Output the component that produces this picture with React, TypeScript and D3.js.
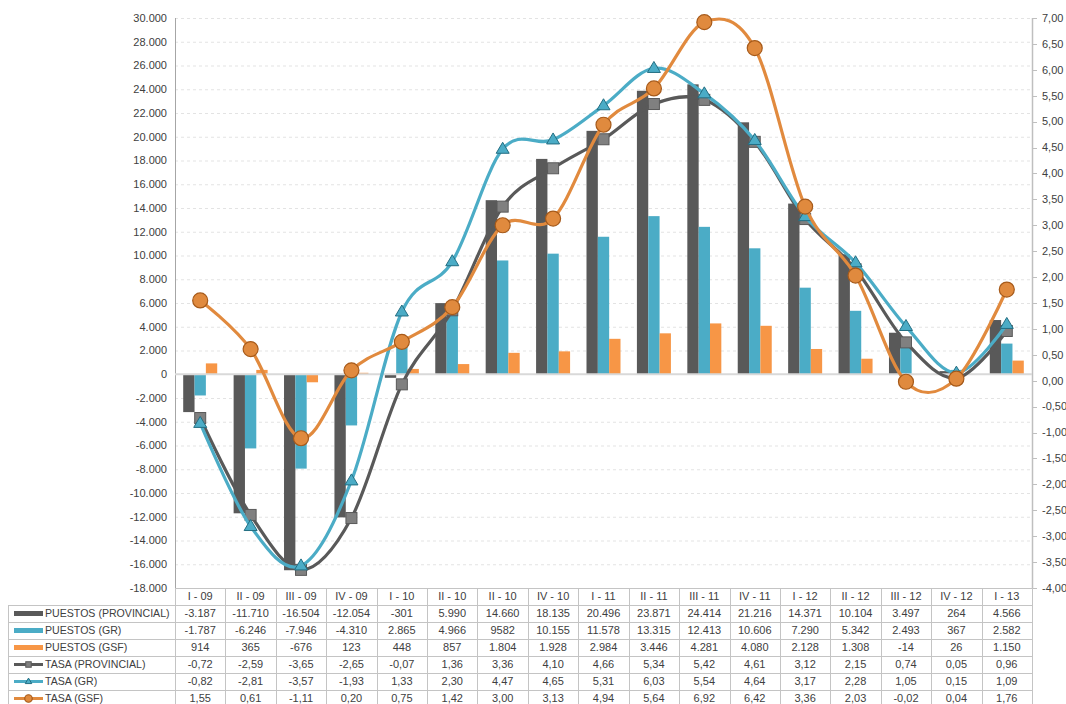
import React, { useEffect, useRef } from "react";
import * as d3 from "d3";

// trimestres (la 7ma columna viene rotulada "II - 10" en el original)
const categories = ["I - 09", "II - 09", "III - 09", "IV - 09", "I - 10", "II - 10", "II - 10", "IV - 10", "I - 11", "II - 11", "III - 11", "IV - 11", "I - 12", "II - 12", "III - 12", "IV - 12", "I - 13"];

const puestosProvincial = [-3187, -11710, -16504, -12054, -301, 5990, 14660, 18135, 20496, 23871, 24414, 21216, 14371, 10104, 3497, 264, 4566];
const puestosGR = [-1787, -6246, -7946, -4310, 2865, 4966, 9582, 10155, 11578, 13315, 12413, 10606, 7290, 5342, 2493, 367, 2582];
const puestosGSF = [914, 365, -676, 123, 448, 857, 1804, 1928, 2984, 3446, 4281, 4080, 2128, 1308, -14, 26, 1150];

const tasaProvincial = [-0.72, -2.59, -3.65, -2.65, -0.07, 1.36, 3.36, 4.1, 4.66, 5.34, 5.42, 4.61, 3.12, 2.15, 0.74, 0.05, 0.96];
const tasaGR = [-0.82, -2.81, -3.57, -1.93, 1.33, 2.3, 4.47, 4.65, 5.31, 6.03, 5.54, 4.64, 3.17, 2.28, 1.05, 0.15, 1.09];
const tasaGSF = [1.55, 0.61, -1.11, 0.2, 0.75, 1.42, 3.0, 3.13, 4.94, 5.64, 6.92, 6.42, 3.36, 2.03, -0.02, 0.04, 1.76];

const leftTicks = d3.range(-18000, 30001, 2000);
const rightTicks = d3.range(-4, 7.001, 0.5);

// la tabla original imprime esta celda sin separador de miles
const cellOverrides: Record<string, string> = { "PUESTOS (GR)|6": "9582" };

const W = 1066;
const H = 704;
const left = 175;
const right = 1032;
const top = 18;
const bottom = 588;
const rowH = 17;
const FONT = "'Liberation Sans', Arial, sans-serif";
const TXT = "#404040";
const GRID = "#D9D9D9";
const BORDER = "#C4C4C4";

type BarSerie = { name: string; values: number[]; color: string };
type LineSerie = { name: string; values: number[]; color: string; marker: string; fill: string; stroke: string };

const bars: BarSerie[] = [
  { name: "PUESTOS (PROVINCIAL)", values: puestosProvincial, color: "#595959" },
  { name: "PUESTOS (GR)", values: puestosGR, color: "#4BACC6" },
  { name: "PUESTOS (GSF)", values: puestosGSF, color: "#F79646" },
];

const lines: LineSerie[] = [
  { name: "TASA (PROVINCIAL)", values: tasaProvincial, color: "#595959", marker: "square", fill: "#808080", stroke: "#595959" },
  { name: "TASA (GR)", values: tasaGR, color: "#4BACC6", marker: "triangle", fill: "#4BACC6", stroke: "#236E82" },
  { name: "TASA (GSF)", values: tasaGSF, color: "#E18A3E", marker: "circle", fill: "#E08A3E", stroke: "#A65A1A" },
];

function drawMarker(g: any, kind: string, x: number, y: number, s: LineSerie, scale = 1) {
  if (kind === "square") {
    const a = 11 * scale;
    g.append("rect").attr("x", x - a / 2).attr("y", y - a / 2).attr("width", a).attr("height", a)
      .attr("fill", s.fill).attr("stroke", s.stroke).attr("stroke-width", 1);
  } else if (kind === "triangle") {
    const w = 13 * scale;
    const h = 11 * scale;
    g.append("path")
      .attr("d", `M${x},${y - h * 0.62}L${x + w / 2},${y + h * 0.38}L${x - w / 2},${y + h * 0.38}Z`)
      .attr("fill", s.fill).attr("stroke", s.stroke).attr("stroke-width", 1);
  } else {
    g.append("circle").attr("cx", x).attr("cy", y).attr("r", 7.5 * scale)
      .attr("fill", s.fill).attr("stroke", s.stroke).attr("stroke-width", 1.2);
  }
}

function App() {
  const svgRef = useRef<SVGSVGElement>(null);

  useEffect(() => {
    const svg = d3.select(svgRef.current);
    svg.selectAll("*").remove();

    const locale = d3.formatLocale({ decimal: ",", thousands: ".", grouping: [3], currency: ["", ""], minus: "-" } as any);
    const fmtInt = locale.format(",d");
    const fmtDec = locale.format(".2f");

    const idx = categories.map((_, i) => i);
    const x0 = d3.scaleBand<number>().domain(idx).range([left, right]);
    const bw = x0.bandwidth();
    const groupW = 34;
    const x1 = d3.scaleBand<string>().domain(bars.map((b) => b.name))
      .range([(bw - groupW) / 2, (bw + groupW) / 2]);
    const yL = d3.scaleLinear().domain([-18000, 30000]).range([bottom, top]);
    const yR = d3.scaleLinear().domain([-4, 7]).range([bottom, top]);

    const g = svg.append("g");

    // grilla
    g.append("g").selectAll("line").data(leftTicks.filter((t) => t !== 0 && t !== -18000)).join("line")
      .attr("x1", left).attr("x2", right)
      .attr("y1", (d) => yL(d) + 0.5).attr("y2", (d) => yL(d) + 0.5)
      .attr("stroke", "#E3E3E3").attr("stroke-dasharray", "3,3");

    // eje izquierdo
    g.append("g").selectAll("text").data(leftTicks).join("text")
      .attr("x", 167).attr("y", (d) => yL(d)).attr("dy", "0.35em")
      .attr("text-anchor", "end").attr("font-size", 11).attr("font-family", FONT).attr("fill", TXT)
      .text((d) => fmtInt(d));
    g.append("line").attr("x1", left + 0.5).attr("x2", left + 0.5).attr("y1", top).attr("y2", bottom)
      .attr("stroke", "#A6A6A6");

    // eje derecho
    g.append("line").attr("x1", right + 0.5).attr("x2", right + 0.5).attr("y1", top).attr("y2", bottom)
      .attr("stroke", "#BFBFBF").attr("stroke-width", 1.5);
    g.append("g").selectAll("line").data(rightTicks).join("line")
      .attr("x1", right).attr("x2", right + 5)
      .attr("y1", (d) => Math.round(yR(d)) + 0.5).attr("y2", (d) => Math.round(yR(d)) + 0.5)
      .attr("stroke", "#BFBFBF");
    g.append("g").selectAll("text").data(rightTicks).join("text")
      .attr("x", 1042).attr("y", (d) => yR(d)).attr("dy", "0.35em")
      .attr("font-size", 11).attr("font-family", FONT).attr("fill", TXT)
      .text((d) => fmtDec(d));

    // barras
    bars.forEach((b) => {
      g.append("g").selectAll("rect").data(b.values).join("rect")
        .attr("x", (_, i) => (x0(i) as number) + (x1(b.name) as number))
        .attr("width", x1.bandwidth())
        .attr("y", (d) => yL(Math.max(0, d)))
        .attr("height", (d) => Math.abs(yL(d) - yL(0)))
        .attr("fill", b.color);
    });

    // linea de cero
    g.append("line").attr("x1", left).attr("x2", right).attr("y1", yL(0)).attr("y2", yL(0))
      .attr("stroke", GRID).attr("stroke-width", 2);

    // tasas (eje derecho), suavizadas
    const cx = (i: number) => (x0(i) as number) + bw / 2;
    lines.forEach((s) => {
      const line = d3.line<number>().x((_, i) => cx(i)).y((d) => yR(d)).curve(d3.curveCardinal.tension(0));
      g.append("path").attr("d", line(s.values)).attr("fill", "none")
        .attr("stroke", s.color).attr("stroke-width", 3.2).attr("stroke-linecap", "round");
      const mg = g.append("g");
      s.values.forEach((v, i) => drawMarker(mg, s.marker, cx(i), yR(v), s));
    });

    // tabla de datos
    const t = g.append("g").attr("font-family", FONT).attr("font-size", 11).attr("fill", TXT);
    const rows = [...bars.map((b) => ({ kind: "bar", s: b as any })), ...lines.map((l) => ({ kind: "line", s: l as any }))];
    const tableBottom = bottom + rowH * (rows.length + 1);

    // rotulos de categoria
    categories.forEach((c, i) => {
      t.append("text").attr("x", cx(i)).attr("y", bottom + rowH / 2).attr("dy", "0.35em")
        .attr("text-anchor", "middle").text(c);
    });

    rows.forEach((r, ri) => {
      const y0 = bottom + rowH * (ri + 1);
      const ym = y0 + rowH / 2;
      if (r.kind === "bar") {
        t.append("rect").attr("x", 14).attr("y", ym - 2.5).attr("width", 29).attr("height", 5).attr("fill", r.s.color);
      } else {
        t.append("line").attr("x1", 14).attr("x2", 43).attr("y1", ym).attr("y2", ym)
          .attr("stroke", r.s.color).attr("stroke-width", 3);
        drawMarker(t, r.s.marker, 28.5, ym, r.s, 0.5);
      }
      t.append("text").attr("x", 45).attr("y", ym).attr("dy", "0.35em").attr("font-size", 10.6).text(r.s.name);
      const fmt = r.kind === "bar" ? fmtInt : fmtDec;
      r.s.values.forEach((v: number, i: number) => {
        const key = `${r.s.name}|${i}`;
        t.append("text").attr("x", cx(i)).attr("y", ym).attr("dy", "0.35em")
          .attr("text-anchor", "middle").text(cellOverrides[key] ?? fmt(v));
      });
    });

    // bordes
    const b = g.append("g").attr("stroke", BORDER).attr("stroke-width", 1);
    for (let ri = 0; ri <= rows.length + 1; ri++) {
      const yy = bottom + rowH * ri + 0.5;
      b.append("line").attr("x1", ri >= 1 ? 8 : left).attr("x2", right).attr("y1", yy).attr("y2", yy);
    }
    b.append("line").attr("x1", 8.5).attr("x2", 8.5).attr("y1", bottom + rowH).attr("y2", tableBottom);
    for (let i = 0; i <= categories.length; i++) {
      const xx = Math.round(left + bw * i) + 0.5;
      b.append("line").attr("x1", xx).attr("x2", xx).attr("y1", bottom).attr("y2", tableBottom);
    }
  }, []);

  return (
    <svg ref={svgRef} width={W} height={H}
      style={{ position: "absolute", left: 0, top: 0, background: "#fff", display: "block" }} />
  );
}

export default App;
